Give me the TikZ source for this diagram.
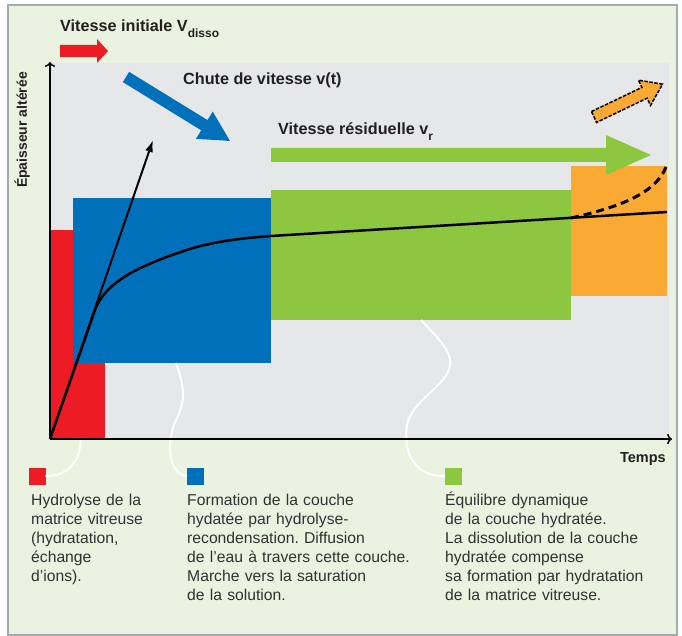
\documentclass[tikz,border=0pt]{standalone}
\usepackage{fontspec}
\setmainfont{Liberation Sans}
\usetikzlibrary{arrows.meta}

\definecolor{hydrored}{RGB}{237,28,36}
\definecolor{coucheblue}{RGB}{0,112,186}
\definecolor{equigreen}{RGB}{141,198,63}
\definecolor{rupturange}{RGB}{250,170,50}
\definecolor{plotgray}{RGB}{230,231,233}
\definecolor{paneltint}{RGB}{233,243,223}
\definecolor{framegray}{RGB}{165,170,172}
\definecolor{inkgray}{RGB}{50,50,50}
\definecolor{titleink}{RGB}{35,31,32}

\tikzset{
  zone/.style={inner sep=0,outer sep=0,anchor=north west},
  legendsq/.style={zone,minimum size=16.5},
  bodytext/.style={anchor=base west,inner sep=0,align=left,text width=250,text=inkgray,font=\fontsize{15.7}{19}\selectfont\frenchspacing},
  headtext/.style={anchor=base west,inner sep=0,text=titleink,font=\fontsize{16.2}{19}\selectfont\bfseries},
  whitelink/.style={draw=white,line width=2},
  axisline/.style={line width=1.5,->},
}

\newcommand{\lowsub}[1]{\raisebox{-0.35em}{\fontsize{12}{12}\selectfont\bfseries #1}}

\begin{document}
\begin{tikzpicture}[x=1pt,y=-1pt]
\useasboundingbox (0,0) rectangle (682,636);

% panel and plot area
\draw[draw=framegray,line width=1.5,fill=paneltint] (8,5) rectangle (677,635);
\fill[plotgray] (50,63) rectangle (669,439);

% phases
\node[zone,fill=hydrored,minimum width=55,minimum height=208] (hydro) at (50,230) {};
\node[zone,fill=coucheblue,minimum width=198,minimum height=165] (couche) at (73,198) {};
\node[zone,fill=equigreen,minimum width=300,minimum height=130] (equi) at (271,190) {};
\node[zone,fill=rupturange,minimum width=96,minimum height=130] (rupture) at (571,166) {};

% speed arrows
\fill[hydrored] (60,45) -- (97,45) -- (97,39) -- (108,51) -- (97,63) -- (97,57) -- (60,57) -- cycle;
\begin{scope}[shift={(126,77)},rotate=-31.6]
  \fill[coucheblue] (0,-6) -- (92,-6) -- (92,-16) -- (122,0) -- (92,16) -- (92,6) -- (0,6) -- cycle;
\end{scope}
\fill[equigreen] (271,148) -- (606,148) -- (606,135) -- (651,155) -- (606,175) -- (606,162) -- (271,162) -- cycle;
\begin{scope}[shift={(594,117)},rotate=25.6]
  \filldraw[fill=rupturange,draw=black,line width=1.5,dash pattern=on 3.5pt off 1.5pt]
    (0,-6) -- (56,-6) -- (56,-14) -- (76,0) -- (56,14) -- (56,6) -- (0,6) -- cycle;
\end{scope}

% labels
\node[headtext] (vinit) at (60,32) {Vitesse initiale V\lowsub{disso}};
\node[headtext] (vchute) at (183,85) {Chute de vitesse v(t)};
\node[headtext] (vres) at (278,135) {Vitesse résiduelle v\lowsub{r}};

% legend
\node[legendsq,fill=hydrored] (sqred) at (29,468) {};
\node[legendsq,fill=coucheblue] (sqblue) at (187,468) {};
\node[legendsq,fill=equigreen] (sqgreen) at (445,468) {};

\node[bodytext] (txtred) at (31,505) {Hydrolyse de la\\matrice vitreuse\\(hydratation,\\échange\\d’ions).};
\node[bodytext] (txtblue) at (187,505) {Formation de la couche\\hydatée par hydrolyse-\\recondensation. Diffusion\\de l’eau à travers cette couche.\\Marche vers la saturation\\de la solution.};
\node[bodytext] (txtgreen) at (445,505) {Équilibre dynamique\\de la couche hydratée.\\La dissolution de la couche\\hydratée compense\\sa formation par hydratation\\de la matrice vitreuse.};

% white links
\draw[whitelink] ([xshift=3]hydro.south) .. controls (81,462) and (68,476) .. (sqred.east);
\draw[whitelink] ([xshift=4]couche.south) .. controls (184,385) and (186,400) .. (177,418)
  .. controls (170,432) and (168,450) .. (172,462) .. controls (175,470) and (181,476) .. (sqblue.west);
\draw[whitelink] (equi.south) .. controls (440,340) and (452,352) .. (450,365)
  .. controls (448,385) and (412,400) .. (407,425) .. controls (403,455) and (415,476) .. (sqgreen.west);

% axes
\coordinate (origin) at (50,439);
\coordinate (ytop) at (50,62);
\coordinate (xend) at (672,439);
\draw[axisline] (origin) -- (ytop);
\draw[axisline] (origin) -- (xend);
\node[rotate=90,anchor=base,inner sep=0,text=titleink,font=\fontsize{14}{16}\selectfont\bfseries] (ylab) at (27,130) {Épaisseur altérée};
\node[anchor=base east,inner sep=0,text=titleink,font=\fontsize{14.5}{16}\selectfont\bfseries] (xlab) at (666,462) {Temps};

% thickness curves
\coordinate (tang) at (153,140);
\draw[line width=2,-{Latex[length=12pt,width=8pt]}] (origin) -- (tang);
\draw[line width=2.5,line join=round] (origin) -- (95,310) .. controls (105,282) and (140,265) .. (190,249)
  .. controls (215,241) and (245,238) .. (271,236) -- (667,212);
\draw[line width=3,dash pattern=on 8pt off 5pt] (571,218) .. controls (615,208) and (655,195) .. (666,167);

\end{tikzpicture}
\end{document}
